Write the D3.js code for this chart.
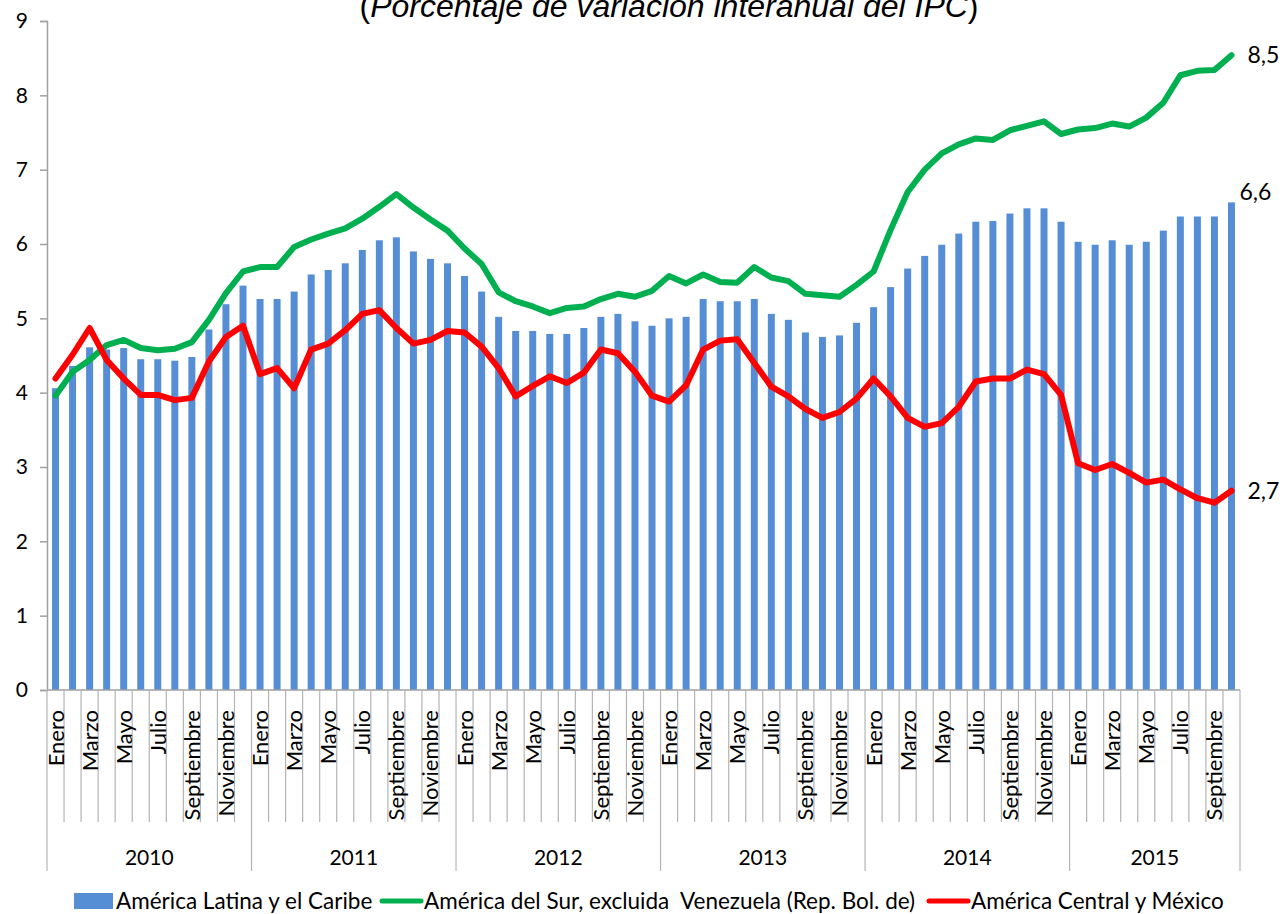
<!DOCTYPE html>
<html>
<head>
<meta charset="utf-8">
<script src="https://cdn.jsdelivr.net/npm/d3@7"></script>
<style>
  body { margin: 0; background: #fff; }
  svg text { font-family: Lato, "Noto Sans", sans-serif; fill: #000; }
</style>
</head>
<body>
<div id="chart"></div>
<script>
// month names, years and how many months each year has
var months = ["Enero", "Febrero", "Marzo", "Abril", "Mayo", "Junio", "Julio", "Agosto",
              "Septiembre", "Octubre", "Noviembre", "Diciembre"];
var years = ["2010", "2011", "2012", "2013", "2014", "2015"];
var monthsPerYear = [12, 12, 12, 12, 12, 10];
var yTicks = [0, 1, 2, 3, 4, 5, 6, 7, 8, 9];

var seriesNames = ["América Latina y el Caribe",
                   "América del Sur, excluida  Venezuela (Rep. Bol. de)",
                   "América Central y México"];

// América Latina y el Caribe (bars)
var latam = [4.06, 4.36, 4.61, 4.58, 4.60, 4.45, 4.45, 4.43, 4.48, 4.85, 5.19, 5.44,
             5.26, 5.26, 5.36, 5.59, 5.65, 5.74, 5.92, 6.05, 6.09, 5.90, 5.80, 5.74,
             5.57, 5.36, 5.02, 4.83, 4.83, 4.79, 4.79, 4.87, 5.02, 5.06, 4.96, 4.90,
             5.00, 5.02, 5.26, 5.23, 5.23, 5.26, 5.06, 4.98, 4.81, 4.75, 4.77, 4.94,
             5.15, 5.42, 5.67, 5.84, 5.99, 6.14, 6.30, 6.31, 6.41, 6.48, 6.48, 6.30,
             6.03, 5.99, 6.05, 5.99, 6.03, 6.18, 6.37, 6.37, 6.37, 6.56];

// América del Sur, excluida Venezuela (green line)
var sur = [3.96, 4.28, 4.44, 4.64, 4.71, 4.60, 4.57, 4.59, 4.68, 4.98, 5.34, 5.63,
           5.69, 5.69, 5.96, 6.06, 6.14, 6.21, 6.34, 6.50, 6.67, 6.49, 6.33, 6.18,
           5.94, 5.73, 5.35, 5.23, 5.16, 5.07, 5.14, 5.16, 5.26, 5.33, 5.29, 5.37,
           5.57, 5.47, 5.59, 5.49, 5.48, 5.69, 5.55, 5.50, 5.33, 5.31, 5.29, 5.45,
           5.63, 6.19, 6.70, 7.00, 7.22, 7.34, 7.42, 7.40, 7.53, 7.59, 7.65, 7.48,
           7.54, 7.56, 7.62, 7.58, 7.70, 7.90, 8.27, 8.33, 8.34, 8.54];

// América Central y México (red line)
var central = [4.19, 4.51, 4.87, 4.44, 4.19, 3.97, 3.97, 3.90, 3.93, 4.42, 4.75, 4.90,
               4.25, 4.33, 4.06, 4.58, 4.66, 4.84, 5.06, 5.11, 4.87, 4.66, 4.71, 4.83,
               4.81, 4.62, 4.33, 3.95, 4.09, 4.22, 4.13, 4.27, 4.58, 4.53, 4.28, 3.96,
               3.88, 4.10, 4.58, 4.70, 4.72, 4.40, 4.08, 3.95, 3.78, 3.66, 3.74, 3.92,
               4.19, 3.95, 3.66, 3.54, 3.59, 3.81, 4.15, 4.19, 4.19, 4.31, 4.25, 3.97,
               3.05, 2.96, 3.04, 2.92, 2.79, 2.83, 2.70, 2.58, 2.52, 2.68];

// labels at the end of each series
var endLabels = ["6,6", "8,5", "2,7"];

var colors = ["#558ed5", "#00b050", "#ff0000"];

// build one category per month
var cats = [];
years.forEach(function(y, yi) {
  for (var m = 0; m < monthsPerYear[yi]; m++) cats.push({year: y, month: m, key: y + "-" + m});
});

var W = 1285, H = 914;
var margin = {top: 21, left: 47, right: 45, bottom: 224};

var svg = d3.select("#chart").append("svg")
    .attr("width", W).attr("height", H);

var x = d3.scaleBand()
    .domain(cats.map(d => d.key))
    .range([margin.left, W - margin.right])
    .padding(0);

var y = d3.scaleLinear()
    .domain([0, 9])
    .range([H - margin.bottom, margin.top]);

var axisColor = "#a0a0a0";
var barW = x.bandwidth() * 0.41;
var cx = i => x(cats[i].key) + x.bandwidth() / 2;

// title (cut at the top in the original)
svg.append("text")
    .attr("x", 669).attr("y", 17)
    .attr("text-anchor", "middle")
    .style("font-family", "'Liberation Sans', Arial, sans-serif")
    .style("font-size", "32px")
    .call(t => {
      t.append("tspan").text("(");
      t.append("tspan").style("font-style", "italic").text("Porcentaje de variación interanual del IPC");
      t.append("tspan").text(")");
    });

// bars
svg.append("g").selectAll("rect")
  .data(latam)
  .enter().append("rect")
    .attr("x", (d, i) => cx(i) - barW / 2)
    .attr("y", d => y(d))
    .attr("width", barW)
    .attr("height", d => y(0) - y(d))
    .style("fill", colors[0]);

// lines
var line = d3.line()
    .x((d, i) => cx(i))
    .y(d => y(d));

[sur, central].forEach(function(s, k) {
  svg.append("path")
    .datum(s)
    .attr("d", line)
    .style("fill", "none")
    .style("stroke", colors[k + 1])
    .style("stroke-width", 6)
    .style("stroke-linejoin", "round")
    .style("stroke-linecap", "round");
});

// y axis
var yAxis = svg.append("g")
    .attr("transform", "translate(" + margin.left + ",0)")
    .call(d3.axisLeft(y).tickValues(yTicks).tickSize(7).tickPadding(12).tickFormat(d3.format("d")));
yAxis.select(".domain").style("stroke", axisColor).style("stroke-width", 1.5);
yAxis.selectAll(".tick line").style("stroke", axisColor).style("stroke-width", 1.5);
yAxis.selectAll(".tick text").style("font-family", "Lato, sans-serif").style("font-size", "21px");

// x axis baseline
var y0 = y(0);
svg.append("line")
    .attr("x1", margin.left).attr("x2", W - margin.right)
    .attr("y1", y0).attr("y2", y0)
    .style("stroke", axisColor).style("stroke-width", 1.5);

// month separators
var monthLineBottom = 822, yearLineBottom = 871;
var bounds = cats.map(d => x(d.key)).concat([W - margin.right]);
svg.append("g").selectAll("line")
  .data(bounds)
  .enter().append("line")
    .attr("x1", d => d).attr("x2", d => d)
    .attr("y1", y0)
    .attr("y2", (d, i) => (i === 0 || i === cats.length || cats[i].month === 0) ? yearLineBottom : monthLineBottom)
    .style("stroke", "#b4b4b4").style("stroke-width", 1.2);

// month labels (every other month)
svg.append("g").selectAll("text")
  .data(cats.filter(d => d.month % 2 === 0))
  .enter().append("text")
    .attr("transform", d => "translate(" + (x(d.key) + x.bandwidth() / 2 + 8) + "," + (y0 + 20) + ") rotate(-90)")
    .attr("text-anchor", "end")
    .style("font-size", "22px")
    .text(d => months[d.month]);

// year labels
var yearStart = 0;
years.forEach(function(yr, yi) {
  var a = x(cats[yearStart].key);
  var b = x(cats[yearStart + monthsPerYear[yi] - 1].key) + x.bandwidth();
  svg.append("text")
    .attr("x", (a + b) / 2).attr("y", 865)
    .attr("text-anchor", "middle")
    .style("font-size", "21px")
    .text(yr);
  yearStart += monthsPerYear[yi];
});

// end labels
var last = cats.length - 1;
[latam, sur, central].forEach(function(s, k) {
  var dy = k === 0 ? -10 : 0;
  var dx = k === 0 ? 8 : 16;
  svg.append("text")
    .attr("x", cx(last) + dx)
    .attr("y", y(s[last]) + dy)
    .attr("dy", "0.35em")
    .style("font-size", "23px")
    .text(endLabels[k]);
});

// legend
var legY = 901;
var legX = [74, 382, 929];
var leg = svg.append("g");
leg.append("rect")
    .attr("x", legX[0]).attr("y", legY - 8).attr("width", 39).attr("height", 16)
    .style("fill", colors[0]);
[1, 2].forEach(function(k) {
  leg.append("line")
    .attr("x1", legX[k]).attr("x2", legX[k] + 39)
    .attr("y1", legY).attr("y2", legY)
    .style("stroke", colors[k]).style("stroke-width", 5)
    .style("stroke-linecap", "round");
});
seriesNames.forEach(function(n, k) {
  leg.append("text")
    .attr("x", legX[k] + (k === 0 ? 42 : 42))
    .attr("y", legY)
    .attr("dy", "0.35em")
    .style("font-size", "22.5px")
    .attr("xml:space", "preserve")
    .text(n);
});
</script>
</body>
</html>
